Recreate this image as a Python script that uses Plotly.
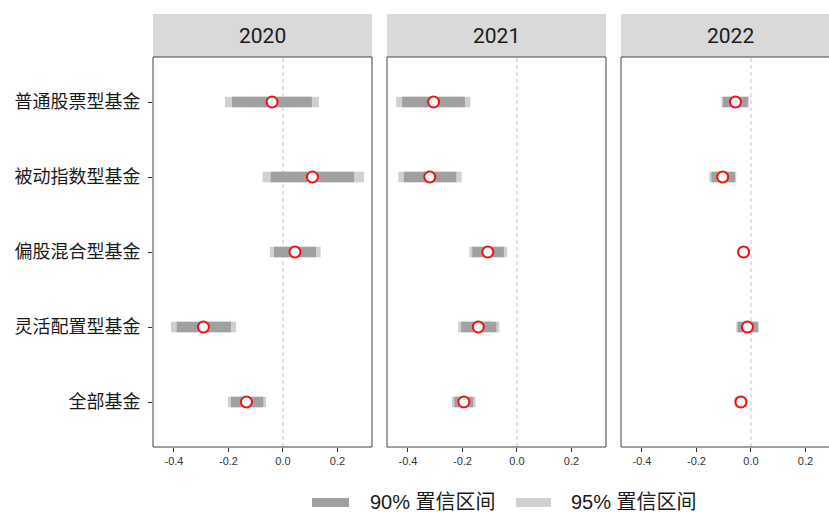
import plotly.graph_objects as go

# Fund categories, top to bottom
categories = ["普通股票型基金", "被动指数型基金", "偏股混合型基金", "灵活配置型基金", "全部基金"]
years = ["2020", "2021", "2022"]

# Point estimates per year (same order as categories)
estimate = {
    "2020": [-0.040, 0.108, 0.044, -0.292, -0.134],
    "2021": [-0.306, -0.320, -0.107, -0.142, -0.195],
    "2022": [-0.057, -0.104, -0.027, -0.013, -0.037],
}
# 90% confidence interval bounds
ci90_low = {
    "2020": [-0.187, -0.045, -0.033, -0.390, -0.191],
    "2021": [-0.421, -0.415, -0.164, -0.205, -0.230],
    "2022": [-0.103, -0.145, -0.042, -0.049, -0.055],
}
ci90_high = {
    "2020": [0.106, 0.261, 0.121, -0.191, -0.072],
    "2021": [-0.191, -0.223, -0.048, -0.076, -0.161],
    "2022": [-0.012, -0.059, -0.012, 0.025, -0.019],
}
# 95% confidence interval bounds
ci95_low = {
    "2020": [-0.213, -0.075, -0.048, -0.411, -0.202],
    "2021": [-0.443, -0.435, -0.175, -0.216, -0.239],
    "2022": [-0.108, -0.153, -0.046, -0.054, -0.060],
}
ci95_high = {
    "2020": [0.132, 0.297, 0.138, -0.172, -0.062],
    "2021": [-0.171, -0.203, -0.036, -0.065, -0.152],
    "2022": [-0.007, -0.054, -0.008, 0.029, -0.014],
}
legend_labels = ["90% 置信区间", "95% 置信区间"]
x_ticks = [-0.4, -0.2, 0.0, 0.2]
x_tick_text = ["-0.4", "-0.2", "0.0", "0.2"]

DARK = "#A0A0A0"
LIGHT = "#D0D0D0"
RED = "#EE1111"
BORDER = "#444444"
STRIP = "#D9D9D9"
FONT = "Noto Sans CJK SC, Liberation Sans, sans-serif"
LEGEND_FONT = "Liberation Sans, Noto Sans CJK SC, sans-serif"

W, H = 829, 513
ML, MR, MT, MB = 153, 0, 57, 66
PW = W - ML - MR
PH = H - MT - MB
panel_px = 219
gap_px = 15
px_per_unit = 272.5
x_lo = -0.477

fig = go.Figure()

domains = []
for i in range(3):
    a = (i * (panel_px + gap_px)) / PW
    b = min(1.0, (i * (panel_px + gap_px) + panel_px) / PW)
    domains.append([a, b])

for i, yr in enumerate(years):
    xa = "x" if i == 0 else f"x{i+1}"
    lo95, hi95 = ci95_low[yr], ci95_high[yr]
    lo90, hi90 = ci90_low[yr], ci90_high[yr]
    fig.add_trace(go.Bar(
        orientation="h", y=categories, base=lo95,
        x=[h - l for l, h in zip(lo95, hi95)],
        width=0.14, marker=dict(color=LIGHT, line=dict(width=0)),
        xaxis=xa, yaxis="y", showlegend=False, hoverinfo="skip",
    ))
    fig.add_trace(go.Bar(
        orientation="h", y=categories, base=lo90,
        x=[h - l for l, h in zip(lo90, hi90)],
        width=0.14, marker=dict(color=DARK, line=dict(width=0)),
        xaxis=xa, yaxis="y", showlegend=False, hoverinfo="skip",
    ))
    fig.add_trace(go.Scatter(
        x=estimate[yr], y=categories, mode="markers",
        marker=dict(symbol="circle", size=11, color="white",
                    line=dict(color=RED, width=2)),
        xaxis=xa, yaxis="y", showlegend=False,
    ))

layout = dict(
    width=W, height=H,
    margin=dict(l=ML, r=MR, t=MT, b=MB, pad=0),
    paper_bgcolor="white", plot_bgcolor="white",
    barmode="overlay", showlegend=False,
    font=dict(family=FONT, color="#1A1A1A"),
    yaxis=dict(
        domain=[0, 1], anchor="x",
        categoryorder="array", categoryarray=categories,
        range=[len(categories) - 0.4, -0.6],
        showgrid=False, zeroline=False, showline=False,
        ticks="outside", ticklen=4, tickwidth=1.2, tickcolor="#333333",
        tickfont=dict(size=18, color="#1A1A1A", family=FONT),
        ticklabelstandoff=4,
    ),
)
for i in range(3):
    key = "xaxis" if i == 0 else f"xaxis{i+1}"
    width_units = (domains[i][1] - domains[i][0]) * PW / px_per_unit
    layout[key] = dict(
        domain=domains[i], anchor="y",
        range=[x_lo, x_lo + width_units],
        tickvals=x_ticks, ticktext=x_tick_text,
        showgrid=False, zeroline=False, showline=False,
        ticks="outside", ticklen=4, tickwidth=1.2, tickcolor="#333333",
        tickfont=dict(size=11, color="#333333", family="Liberation Sans, Arial, sans-serif"),
    )
fig.update_layout(**layout)

shapes = []
annotations = []
strip_h = 43 / PH
for i, yr in enumerate(years):
    xr = "x" if i == 0 else f"x{i+1}"
    # dashed reference line at zero
    shapes.append(dict(type="line", xref=xr, yref="y domain", x0=0, x1=0, y0=0, y1=1,
                       line=dict(color="#C4C4C4", width=1, dash="4px,3px"), layer="below"))
    # panel border (right edge of the last panel runs off the page)
    sides = [(0, 0, 0, 1), (0, 1, 1, 1), (0, 1, 0, 0)]
    if i < 2:
        sides.append((1, 1, 0, 1))
    for x0, x1, y0, y1 in sides:
        shapes.append(dict(type="line", xref=f"{xr} domain", yref="paper",
                           x0=x0, x1=x1, y0=y0, y1=y1,
                           line=dict(color=BORDER, width=1)))
    # facet strip
    shapes.append(dict(type="rect", xref=f"{xr} domain", yref="paper",
                       x0=0, x1=1 if i < 2 else (panel_px / PW) / (domains[i][1] - domains[i][0]),
                       y0=1, y1=1 + strip_h,
                       fillcolor=STRIP, line=dict(width=0), layer="below"))
    annotations.append(dict(text=yr, xref="paper", yref="paper",
                            x=domains[i][0] + panel_px / PW / 2, y=1 + strip_h / 2 - 1 / PH,
                            showarrow=False, xanchor="center", yanchor="middle",
                            font=dict(size=21, color="#1A1A1A",
                                      family="Roboto, sans-serif")))

# legend drawn below the panels
legend_colors = [DARK, LIGHT]
key_x = [312, 516]
key_w = [37, 35]
text_x = [368, 569]
leg_y = 502
for k in range(2):
    shapes.append(dict(type="rect", xref="paper", yref="paper",
                       x0=(key_x[k] - ML) / PW, x1=(key_x[k] + key_w[k] - ML) / PW,
                       y0=(H - MB - (leg_y + 5)) / PH, y1=(H - MB - (leg_y - 4)) / PH,
                       fillcolor=legend_colors[k], line=dict(width=0)))
    annotations.append(dict(text=legend_labels[k], xref="paper", yref="paper",
                            x=(text_x[k] - ML) / PW, y=(H - MB - (leg_y - 0.5)) / PH,
                            showarrow=False, xanchor="left", yanchor="middle",
                            font=dict(size=20, color="#1A1A1A", family=LEGEND_FONT)))

fig.update_layout(shapes=shapes, annotations=annotations)
fig.write_html("out.html")
